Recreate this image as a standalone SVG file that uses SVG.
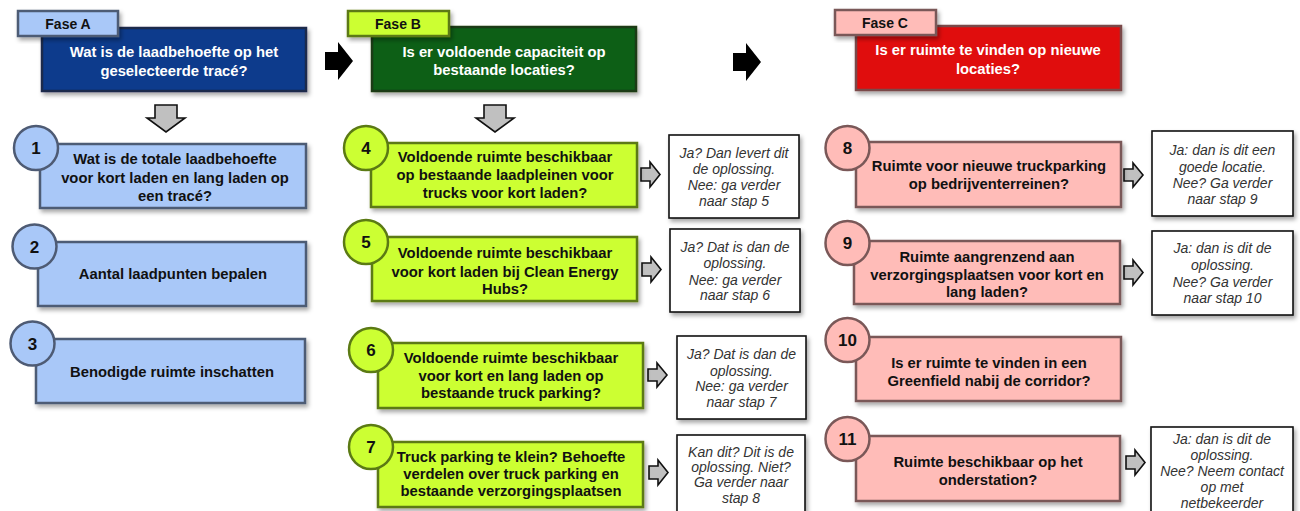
<svg xmlns="http://www.w3.org/2000/svg" width="1300" height="511" viewBox="0 0 1300 511">
<defs>
<filter id="sh" x="-10%" y="-10%" width="130%" height="140%">
<feDropShadow dx="2" dy="3" stdDeviation="2" flood-color="#000" flood-opacity="0.35"/>
</filter>
<style>
text{font-family:"Liberation Sans",Arial,sans-serif;text-anchor:middle}
.t{font-size:14.8px;font-weight:bold;fill:#111}
.h{font-size:14.8px;font-weight:bold;fill:#fff}
.tab{font-size:14px;font-weight:bold;fill:#111}
.num{font-size:17px;font-weight:bold;fill:#111}
.c{font-size:14px;font-style:italic;fill:#333}
.ba{fill:#a9c8f8;stroke:#4e5b74;stroke-width:2.5}
.bb{fill:#ccff33;stroke:#5b7a14;stroke-width:2.5}
.bc{fill:#ffbcb8;stroke:#7a5858;stroke-width:2.5}
.co{fill:#fff;stroke:#111;stroke-width:1.6}
.ga{fill:#c0c0c0;stroke:#111;stroke-width:1.6;stroke-linejoin:miter}
.blk{fill:#000}
</style>
</defs>
<rect width="1300" height="511" fill="#fff"/>

<!-- Phase headers -->
<g id="phase-a">
<rect x="42" y="28" width="264" height="63" fill="#0b3b8c" stroke="#1c2a4c" stroke-width="2.5" filter="url(#sh)"/>
<rect x="18" y="11" width="100" height="25" class="ba" filter="url(#sh)"/>
<text class="tab" x="68" y="29">Fase A</text>
<text class="h" x="174" y="57">Wat is de laadbehoefte op het</text>
<text class="h" x="174" y="76">geselecteerde tracé?</text>
</g>
<g id="phase-b">
<rect x="372" y="27" width="264" height="64" fill="#0a5e12" stroke="#1c3a14" stroke-width="2.5" filter="url(#sh)"/>
<rect x="348" y="11" width="101" height="25" class="bb" filter="url(#sh)"/>
<text class="tab" x="398" y="29">Fase B</text>
<text class="h" x="504" y="57">Is er voldoende capaciteit op</text>
<text class="h" x="504" y="75">bestaande locaties?</text>
</g>
<g id="phase-c">
<rect x="856" y="26" width="265" height="64" fill="#e00d0d" stroke="#7a4a4a" stroke-width="2.5" filter="url(#sh)"/>
<rect x="835" y="10" width="101" height="25" class="bc" filter="url(#sh)"/>
<text class="tab" x="885" y="28">Fase C</text>
<text class="h" x="988" y="55">Is er ruimte te vinden op nieuwe</text>
<text class="h" x="988" y="74">locaties?</text>
</g>

<!-- Connectors -->
<g id="connectors">
<path class="blk" d="M325,52 H338 V42 L353,61 L338,80 V70 H325 Z"/>
<path class="blk" d="M733,53 H746 V43 L761,62 L746,81 V71 H733 Z"/>
<path class="ga" d="M155,105 H177 V118 H185 L166,132 L147,118 H155 Z"/>
<path class="ga" d="M484,105 H506 V118 H514 L495,132 L476,118 H484 Z"/>
<path class="ga" d="M641,168 H650 V162 L660,174.5 L650,187 V181 H641 Z"/>
<path class="ga" d="M642,263 H651 V257 L661,269.5 L651,282 V276 H642 Z"/>
<path class="ga" d="M648,369 H657 V363 L667,375 L657,387 V381 H648 Z"/>
<path class="ga" d="M649,466 H658 V460 L668,472.5 L658,485 V479 H649 Z"/>
<path class="ga" d="M1124,169 H1133 V163 L1143,175 L1133,187 V181 H1124 Z"/>
<path class="ga" d="M1124,266 H1133 V260 L1143,272.5 L1133,285 V279 H1124 Z"/>
<path class="ga" d="M1126,456 H1135 V450 L1145,462.5 L1135,475 V469 H1126 Z"/>
</g>

<!-- Phase A nodes -->
<g id="node-1">
<rect x="40" y="144" width="266" height="64" class="ba" filter="url(#sh)"/>
<circle cx="36" cy="148" r="22" class="ba"/>
<text class="num" x="36" y="154">1</text>
<text class="t" x="175" y="164">Wat is de totale laadbehoefte</text>
<text class="t" x="175" y="183">voor kort laden en lang laden op</text>
<text class="t" x="175" y="201">een tracé?</text>
</g>
<g id="node-2">
<rect x="38" y="242" width="268" height="64" class="ba" filter="url(#sh)"/>
<circle cx="34.5" cy="246.5" r="22" class="ba"/>
<text class="num" x="34.5" y="252.5">2</text>
<text class="t" x="173" y="279">Aantal laadpunten bepalen</text>
</g>
<g id="node-3">
<rect x="36" y="339" width="269" height="64" class="ba" filter="url(#sh)"/>
<circle cx="32.5" cy="343.5" r="22" class="ba"/>
<text class="num" x="32.5" y="349.5">3</text>
<text class="t" x="172" y="377">Benodigde ruimte inschatten</text>
</g>

<!-- Phase B nodes -->
<g id="node-4">
<rect x="371" y="143" width="266" height="64" class="bb" filter="url(#sh)"/>
<circle cx="366" cy="148" r="22" class="bb"/>
<text class="num" x="366" y="154">4</text>
<text class="t" x="505" y="162">Voldoende ruimte beschikbaar</text>
<text class="t" x="505" y="180">op bestaande laadpleinen voor</text>
<text class="t" x="505" y="198">trucks voor kort laden?</text>
</g>
<g id="callout-4">
<rect x="669" y="135" width="130" height="83" class="co" filter="url(#sh)"/>
<text class="c" x="734" y="158">Ja? Dan levert dit</text>
<text class="c" x="734" y="174">de oplossing.</text>
<text class="c" x="734" y="190">Nee: ga verder</text>
<text class="c" x="734" y="206">naar stap 5</text>
</g>
<g id="node-5">
<rect x="372" y="237" width="265" height="64" class="bb" filter="url(#sh)"/>
<circle cx="366" cy="242" r="22" class="bb"/>
<text class="num" x="366" y="248">5</text>
<text class="t" x="505" y="258">Voldoende ruimte beschikbaar</text>
<text class="t" x="505" y="277">voor kort laden bij Clean Energy</text>
<text class="t" x="505" y="294">Hubs?</text>
</g>
<g id="callout-5">
<rect x="670" y="229" width="130" height="83" class="co" filter="url(#sh)"/>
<text class="c" x="735" y="252">Ja? Dat is dan de</text>
<text class="c" x="735" y="268">oplossing.</text>
<text class="c" x="735" y="285">Nee: ga verder</text>
<text class="c" x="735" y="300">naar stap 6</text>
</g>
<g id="node-6">
<rect x="378" y="343" width="265" height="65" class="bb" filter="url(#sh)"/>
<circle cx="371" cy="350" r="22" class="bb"/>
<text class="num" x="371" y="356">6</text>
<text class="t" x="511" y="363">Voldoende ruimte beschikbaar</text>
<text class="t" x="511" y="381">voor kort en lang laden op</text>
<text class="t" x="511" y="398">bestaande truck parking?</text>
</g>
<g id="callout-6">
<rect x="677" y="336" width="129" height="83" class="co" filter="url(#sh)"/>
<text class="c" x="741.5" y="359">Ja? Dat is dan de</text>
<text class="c" x="741.5" y="376">oplossing.</text>
<text class="c" x="741.5" y="391">Nee: ga verder</text>
<text class="c" x="741.5" y="407">naar stap 7</text>
</g>
<g id="node-7">
<rect x="378" y="442" width="265" height="65" class="bb" filter="url(#sh)"/>
<circle cx="371" cy="447" r="22" class="bb"/>
<text class="num" x="371" y="453">7</text>
<text class="t" x="511" y="462">Truck parking te klein? Behoefte</text>
<text class="t" x="511" y="479">verdelen over truck parking en</text>
<text class="t" x="511" y="496">bestaande verzorgingsplaatsen</text>
</g>
<g id="callout-7">
<rect x="677" y="435" width="128" height="85" class="co" filter="url(#sh)"/>
<text class="c" x="741" y="457">Kan dit? Dit is de</text>
<text class="c" x="741" y="472">oplossing. Niet?</text>
<text class="c" x="741" y="487">Ga verder naar</text>
<text class="c" x="741" y="503">stap 8</text>
</g>

<!-- Phase C nodes -->
<g id="node-8">
<rect x="856" y="142" width="265" height="65" class="bc" filter="url(#sh)"/>
<circle cx="847.5" cy="148" r="22" class="bc"/>
<text class="num" x="847.5" y="154">8</text>
<text class="t" x="989" y="171">Ruimte voor nieuwe truckparking</text>
<text class="t" x="989" y="189">op bedrijventerreinen?</text>
</g>
<g id="callout-8">
<rect x="1152" y="131" width="141" height="85" class="co" filter="url(#sh)"/>
<text class="c" x="1222.5" y="155">Ja: dan is dit een</text>
<text class="c" x="1222.5" y="172">goede locatie.</text>
<text class="c" x="1222.5" y="188">Nee? Ga verder</text>
<text class="c" x="1222.5" y="204">naar stap 9</text>
</g>
<g id="node-9">
<rect x="854" y="241" width="266" height="63" class="bc" filter="url(#sh)"/>
<circle cx="847.5" cy="243" r="22" class="bc"/>
<text class="num" x="847.5" y="249">9</text>
<text class="t" x="987" y="262">Ruimte aangrenzend aan</text>
<text class="t" x="987" y="280">verzorgingsplaatsen voor kort en</text>
<text class="t" x="987" y="297">lang laden?</text>
</g>
<g id="callout-9">
<rect x="1152" y="231" width="141" height="84" class="co" filter="url(#sh)"/>
<text class="c" x="1222.5" y="253">Ja: dan is dit de</text>
<text class="c" x="1222.5" y="270">oplossing.</text>
<text class="c" x="1222.5" y="287">Nee? Ga verder</text>
<text class="c" x="1222.5" y="303">naar stap 10</text>
</g>
<g id="node-10">
<rect x="856" y="337" width="265" height="64" class="bc" filter="url(#sh)"/>
<circle cx="847.5" cy="340" r="22" class="bc"/>
<text class="num" x="847.5" y="346">10</text>
<text class="t" x="989" y="368">Is er ruimte te vinden in een</text>
<text class="t" x="989" y="386">Greenfield nabij de corridor?</text>
</g>
<g id="node-11">
<rect x="856" y="436" width="264" height="65" class="bc" filter="url(#sh)"/>
<circle cx="847.5" cy="439" r="22" class="bc"/>
<text class="num" x="847.5" y="445">11</text>
<text class="t" x="988" y="467">Ruimte beschikbaar op het</text>
<text class="t" x="988" y="485">onderstation?</text>
</g>
<g id="callout-11">
<rect x="1151" y="427" width="142" height="92" class="co" filter="url(#sh)"/>
<text class="c" x="1222" y="444">Ja: dan is dit de</text>
<text class="c" x="1222" y="460">oplossing.</text>
<text class="c" x="1222" y="476">Nee? Neem contact</text>
<text class="c" x="1222" y="492">op met</text>
<text class="c" x="1222" y="508">netbekeerder</text>
</g>
</svg>
